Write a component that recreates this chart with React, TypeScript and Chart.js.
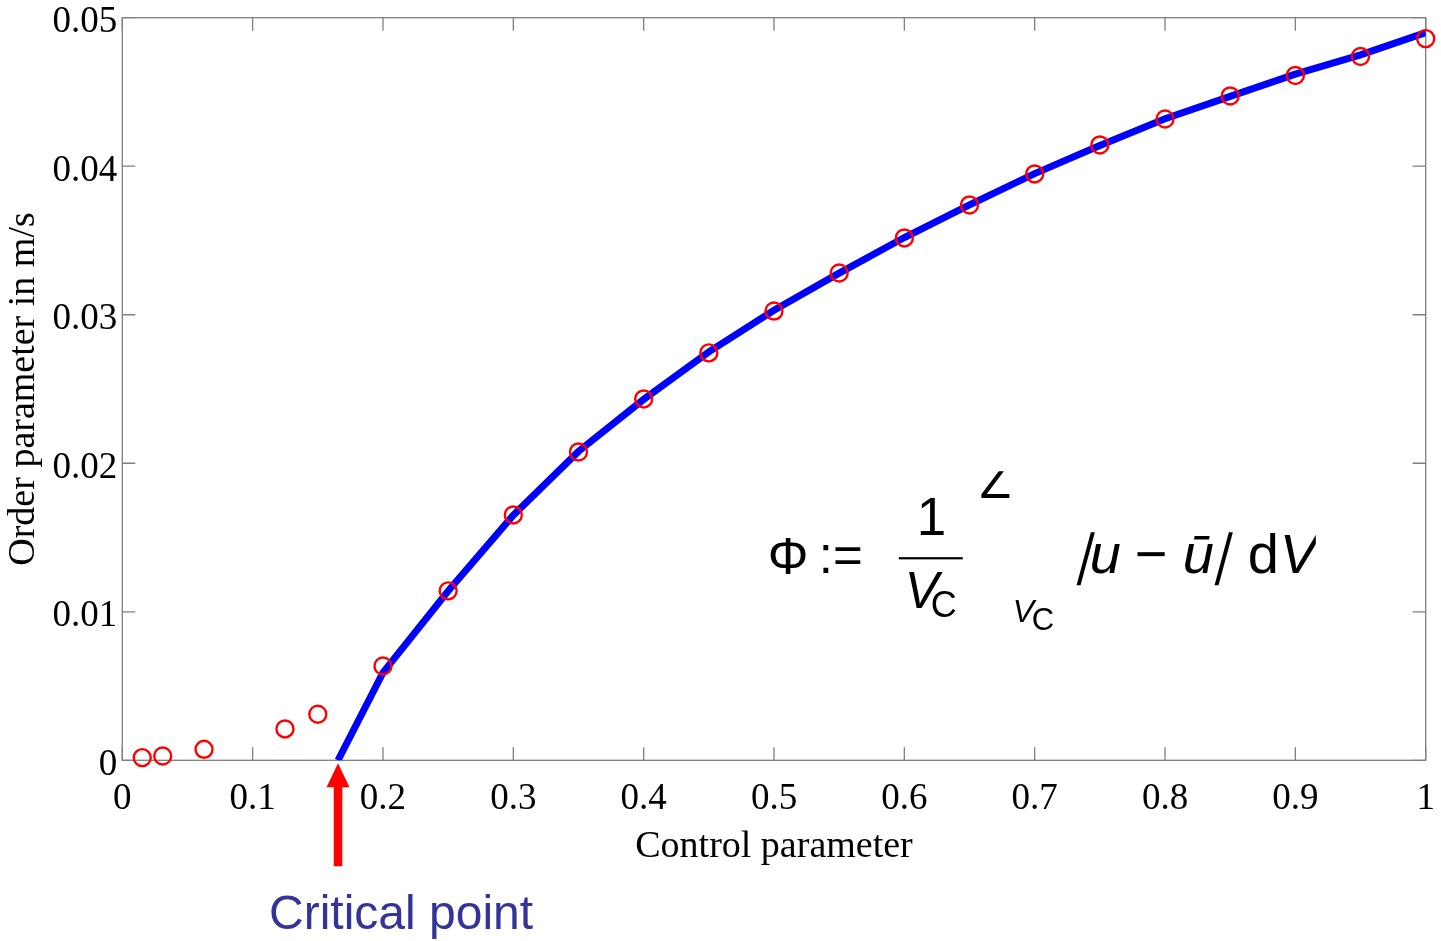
import React, { useEffect, useRef } from 'react';
import { Chart, registerables } from 'chart.js';

Chart.register(...registerables);

// Measured order parameter (red circles)
const controlParam = [0.0153, 0.031, 0.0627, 0.1248, 0.15, 0.2, 0.25, 0.3, 0.35, 0.4, 0.45, 0.5, 0.55, 0.6, 0.65, 0.7, 0.75, 0.8, 0.85, 0.9, 0.95, 1.0];
const orderParam = [0.00018, 0.00029, 0.00074, 0.00211, 0.0031, 0.00635, 0.01141, 0.01652, 0.02076, 0.02433, 0.02743, 0.03025, 0.03281, 0.03517, 0.03739, 0.03948, 0.04143, 0.04318, 0.04473, 0.04611, 0.04739, 0.04859];

// Fitted curve (blue line)
const criticalPoint = 0.1655;
const fitX = [criticalPoint, 0.2, 0.25, 0.3, 0.35, 0.4, 0.45, 0.5, 0.55, 0.6, 0.65, 0.7, 0.75, 0.8, 0.85, 0.9, 0.95, 1.0];
const fitY = [0, 0.0059, 0.0114, 0.0165, 0.0208, 0.0243, 0.0275, 0.0303, 0.0328, 0.0352, 0.0374, 0.0395, 0.0414, 0.0432, 0.0447, 0.0462, 0.0475, 0.0490];

const xTickLabels = ['0', '0.1', '0.2', '0.3', '0.4', '0.5', '0.6', '0.7', '0.8', '0.9', '1'];
const yTickLabels = ['0', '0.01', '0.02', '0.03', '0.04', '0.05'];

const xTitle = 'Control parameter';
const yTitle = 'Order parameter in m/s';
const annotationText = 'Critical point';

const SERIF = '"Liberation Serif", "Times New Roman", serif';
const SANS = '"Liberation Sans", Arial, sans-serif';
const FRAME = '#7f7f7f';

const framePlugin = {
  id: 'frameTicks',
  beforeDatasetsDraw(chart: any) {
    const { ctx, chartArea } = chart;
    const { left, right, top, bottom } = chartArea;
    const xs = chart.scales.x;
    const ys = chart.scales.y;
    const tl = 13;
    ctx.save();
    ctx.strokeStyle = FRAME;
    ctx.lineWidth = 1.3;
    ctx.strokeRect(left, top, right - left, bottom - top);
    ctx.beginPath();
    xs.ticks.forEach((t: any) => {
      const px = xs.getPixelForValue(t.value);
      ctx.moveTo(px, bottom);
      ctx.lineTo(px, bottom - tl);
      ctx.moveTo(px, top);
      ctx.lineTo(px, top + tl);
    });
    ys.ticks.forEach((t: any) => {
      const py = ys.getPixelForValue(t.value);
      ctx.moveTo(left, py);
      ctx.lineTo(left + tl, py);
      ctx.moveTo(right, py);
      ctx.lineTo(right - tl, py);
    });
    ctx.stroke();
    ctx.restore();
  },
};

const annotationPlugin = {
  id: 'annotations',
  afterDraw(chart: any) {
    const { ctx, chartArea } = chart;
    const xs = chart.scales.x;
    const ys = chart.scales.y;

    // Arrow pointing at the critical point
    const ax = xs.getPixelForValue(criticalPoint);
    const tipY = chartArea.bottom + 3;
    const headBase = tipY + 24;
    const shaftBottom = tipY + 103;
    ctx.save();
    ctx.fillStyle = '#ff0000';
    ctx.beginPath();
    ctx.moveTo(ax, tipY);
    ctx.lineTo(ax + 11.5, headBase);
    ctx.lineTo(ax + 4.3, headBase);
    ctx.lineTo(ax + 4.3, shaftBottom);
    ctx.lineTo(ax - 4.3, shaftBottom);
    ctx.lineTo(ax - 4.3, headBase);
    ctx.lineTo(ax - 11.5, headBase);
    ctx.closePath();
    ctx.fill();

    ctx.fillStyle = '#333399';
    ctx.font = `48px ${SANS}`;
    ctx.textAlign = 'left';
    ctx.textBaseline = 'alphabetic';
    ctx.fillText(annotationText, ax - 69, tipY + 166);
    ctx.restore();

    // Formula
    const fx = xs.getPixelForValue(0.496);
    const fy = ys.getPixelForValue(0.0126);
    ctx.save();
    ctx.beginPath();
    ctx.rect(fx - 20, fy - 103, 567, 180);
    ctx.clip();
    ctx.fillStyle = '#000000';
    ctx.textAlign = 'left';
    ctx.textBaseline = 'alphabetic';
    const put = (s: string, font: string, dx: number, dy: number) => {
      ctx.font = font;
      ctx.fillText(s, fx + dx, fy + dy);
    };
    const slantBar = (dx: number) => {
      ctx.save();
      ctx.translate(fx + dx, fy);
      ctx.transform(1, 0, -0.27, 1, 0, 0);
      ctx.fillRect(0, -41, 4, 53);
      ctx.restore();
    };
    put('\u03A6', `51px ${SANS}`, -1, 1);
    put(':=', `51px ${SANS}`, 50, 0);
    put('1', `53px ${SANS}`, 148, -38);
    ctx.fillRect(fx + 130, fy - 16, 64, 2.2);
    put('V', `italic 51px ${SANS}`, 136, 35);
    put('C', `36px ${SANS}`, 162, 44);
    // broken integral sign fragment
    ctx.save();
    ctx.beginPath();
    ctx.rect(fx + 200, fy - 102, 60, 60);
    ctx.clip();
    put('Z', `51px ${SANS}`, 211, -75);
    ctx.restore();
    put('V', `italic 32px ${SANS}`, 244, 49);
    put('C', `31px ${SANS}`, 263, 57);
    slantBar(311);
    put('u', `italic 56px ${SANS}`, 321, 0);
    put('\u2212', `56px ${SANS}`, 366, 0);
    put('\u016B', `italic 56px ${SANS}`, 414, 0);
    slantBar(449);
    put('d', `56px ${SANS}`, 479, 0);
    put('V', `italic 56px ${SANS}`, 511, 0);
    ctx.restore();
  },
};

export default function App() {
  const canvasRef = useRef<HTMLCanvasElement | null>(null);

  useEffect(() => {
    document.body.style.margin = '0';
    const canvas = canvasRef.current;
    if (!canvas) return;
    const chart = new Chart(canvas, {
      type: 'scatter',
      data: {
        datasets: [
          {
            label: 'measured',
            data: controlParam.map((x, i) => ({ x, y: orderParam[i] })),
            showLine: false,
            pointStyle: 'circle',
            pointRadius: 8.5,
            pointHoverRadius: 8.5,
            pointBorderWidth: 2.4,
            borderColor: '#ff0000',
            backgroundColor: 'rgba(0,0,0,0)',
            pointBackgroundColor: 'rgba(0,0,0,0)',
            pointBorderColor: '#ff0000',
            clip: false,
            order: 0,
          },
          {
            label: 'fit',
            data: fitX.map((x, i) => ({ x, y: fitY[i] })),
            showLine: true,
            borderColor: '#0000ff',
            borderWidth: 7,
            pointRadius: 0,
            tension: 0,
            fill: false,
            order: 1,
          },
        ],
      },
      options: {
        responsive: false,
        animation: false,
        events: [],
        layout: { padding: { left: 0, top: 17.7, right: 15.3, bottom: 0 } },
        plugins: {
          legend: { display: false },
          tooltip: { enabled: false },
        },
        scales: {
          x: {
            type: 'linear',
            min: 0,
            max: 1,
            grid: { display: false, drawTicks: false },
            border: { display: false },
            ticks: {
              stepSize: 0.1,
              autoSkip: false,
              maxRotation: 0,
              padding: 17,
              color: '#000000',
              font: { family: SERIF, size: 37 },
              callback: (_v: any, i: number) => xTickLabels[i],
            },
            title: {
              display: true,
              text: xTitle,
              color: '#000000',
              font: { family: SERIF, size: 38, lineHeight: 1.2 },
              padding: { top: 0, bottom: 71 },
            },
            afterFit: (scale: any) => {
              scale.height = 180.7;
              scale.paddingLeft = 0;
              scale.paddingRight = 0;
            },
          },
          y: {
            type: 'linear',
            min: 0,
            max: 0.05,
            grid: { display: false, drawTicks: false },
            border: { display: false },
            ticks: {
              stepSize: 0.01,
              autoSkip: false,
              padding: 5,
              labelOffset: 5,
              color: '#000000',
              font: { family: SERIF, size: 37 },
              callback: (_v: any, i: number) => yTickLabels[i],
            },
            title: {
              display: true,
              text: yTitle,
              color: '#000000',
              font: { family: SERIF, size: 38, lineHeight: 1.2 },
              padding: { top: 1, bottom: 0 },
            },
            afterFit: (scale: any) => {
              scale.width = 122.3;
              scale.paddingTop = 0;
              scale.paddingBottom = 0;
            },
          },
        },
      },
      plugins: [framePlugin, annotationPlugin],
    } as any);
    return () => chart.destroy();
  }, []);

  return (
    <div style={{ width: 1441, height: 941, background: '#ffffff' }}>
      <canvas ref={canvasRef} width={1441} height={941} style={{ display: 'block' }} />
    </div>
  );
}
